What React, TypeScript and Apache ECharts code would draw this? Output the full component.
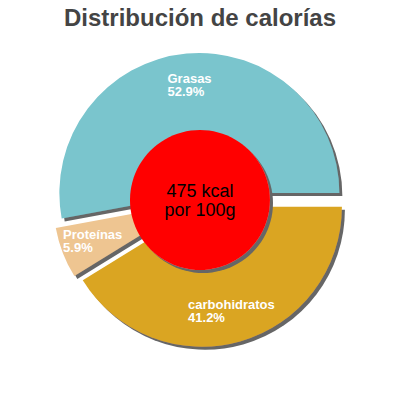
import React, { useEffect, useRef } from 'react';
import * as echarts from 'echarts';

const TITLE = 'Distribución de calorías';
const names = ['Grasas', 'Proteínas', 'carbohidratos'];
const percents = [52.9, 5.9, 41.2];
const colors = ['#7AC5CD', '#EEC591', '#DAA520'];
const kcal = 475;
const centerText = `${kcal} kcal\npor 100g`;

const FONT = '"Liberation Sans", Arial, sans-serif';

const App: React.FC = () => {
  const chartRef = useRef<HTMLDivElement>(null);

  useEffect(() => {
    if (!chartRef.current) return;
    const chart = echarts.init(chartRef.current, undefined, { renderer: 'svg' });

    const shadow = {
      shadowColor: '#666',
      shadowBlur: 0,
      shadowOffsetX: 3,
      shadowOffsetY: 3
    };

    // common pie settings
    const base = {
      type: 'pie' as const,
      center: [200, 200],
      startAngle: 0,
      clockwise: false,
      selectedMode: 'multiple' as const,
      selectedOffset: 7,
      avoidLabelOverlap: false,
      silent: true,
      emphasis: { disabled: true }
    };

    const option = {
      animation: false,
      title: {
        text: TITLE,
        left: 'center',
        top: 0,
        textStyle: {
          fontFamily: FONT,
          fontSize: 24,
          fontWeight: 'bold',
          color: '#444'
        }
      },
      series: [
        {
          ...base,
          radius: [0, 140],
          label: { show: false },
          labelLine: { show: false },
          itemStyle: { ...shadow },
          data: names.map((n, i) => ({
            name: n,
            value: percents[i],
            selected: true,
            itemStyle: { color: colors[i] }
          }))
        },
        {
          // transparent ring only carries the labels at mid radius
          ...base,
          radius: [70, 140],
          z: 3,
          itemStyle: { color: 'transparent' },
          labelLine: { show: false },
          label: {
            show: true,
            position: 'inside',
            formatter: (p: any) => `{t|${p.name}}\n{t|${p.value}%}`,
            rich: {
              t: {
                align: 'left',
                color: '#fff',
                fontFamily: FONT,
                fontWeight: 'bold',
                fontSize: 13,
                lineHeight: 13
              }
            }
          },
          data: names.map((n, i) => ({
            name: n,
            value: percents[i],
            selected: true
          }))
        },
        {
          type: 'pie',
          center: [200, 200],
          radius: [0, 70],
          z: 4,
          silent: true,
          emphasis: { disabled: true },
          itemStyle: { color: '#FF0000', ...shadow },
          labelLine: { show: false },
          label: {
            show: true,
            position: 'center',
            formatter: centerText,
            color: '#000',
            fontFamily: FONT,
            fontSize: 18,
            lineHeight: 19
          },
          data: [{ name: 'kcal', value: kcal }]
        }
      ]
    };

    chart.setOption(option as any);
    return () => {
      chart.dispose();
    };
  }, []);

  return (
    <div
      ref={chartRef}
      style={{ position: 'absolute', left: 0, top: 0, width: 400, height: 400 }}
    />
  );
};

export default App;
